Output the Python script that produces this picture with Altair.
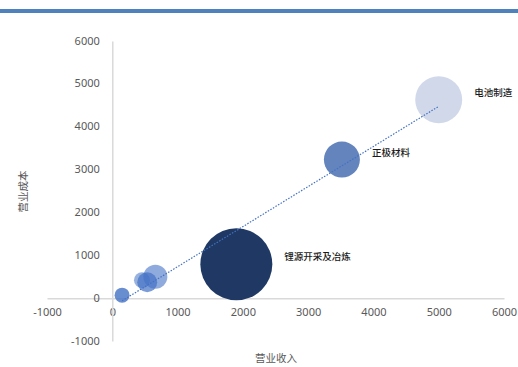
import altair as alt
import pandas as pd

# --- data ---
segment_ids = ["s1", "s2", "s3", "s4", "s5", "s6", "s7"]
labels = ["", "", "", "", "锂源开采及冶炼", "正极材料", "电池制造"]
revenue = [150, 455, 535, 660, 1900, 3517, 5000]      # 营业收入
cost = [70, 420, 370, 500, 790, 3233, 4630]           # 营业成本
bubble_size = [56, 64, 100, 144, 1296, 324, 552]     # bubble size value
fill_colors = ["#4472C4", "#4472C4", "#4472C4", "#4472C4", "#1F3864", "#5B7DB8", "#D0D8EA"]
fill_opacity = [0.8, 0.55, 0.7, 0.6, 1.0, 0.95, 1.0]

x_ticks = [-1000, 0, 1000, 2000, 3000, 4000, 5000, 6000]
y_ticks = [-1000, 0, 1000, 2000, 3000, 4000, 5000, 6000]

df = pd.DataFrame({
    "id": segment_ids,
    "label": labels,
    "revenue": revenue,
    "cost": cost,
    "size": bubble_size,
    "color": fill_colors,
    "op": fill_opacity,
})

W, H = 457, 300
XMIN, XMAX = -1000, 6000
YMIN, YMAX = -1000, 6000
px_per_x = W / (XMAX - XMIN)
px_per_y = H / (YMAX - YMIN)

xscale = alt.Scale(domain=[XMIN, XMAX], nice=False, zero=False)
yscale = alt.Scale(domain=[YMIN, YMAX], nice=False, zero=False)

axis_common = dict(
    tickSize=0, grid=False, domainColor="#D9D9D9", domainWidth=1.5,
    labelColor="#595959", labelFont="Noto Sans", labelFontSize=11,
    titleColor="#595959", titleFont="Noto Sans CJK SC", titleFontSize=10.5,
    titleFontWeight="normal", labelExpr="'' + datum.value",
    labelFlush=False, labelOverlap=False,
)

x_enc = alt.X("revenue:Q", scale=xscale, axis=alt.Axis(
    values=x_ticks, orient="bottom", offset=-(0 - YMIN) * px_per_y,
    labelPadding=8, title="营业收入", titleY=60, titleBaseline="middle",
    **axis_common))
y_enc = alt.Y("cost:Q", scale=yscale, axis=alt.Axis(
    values=y_ticks, orient="left", offset=-(0 - XMIN) * px_per_x,
    labelPadding=13, title="营业成本", titleX=-89, titleBaseline="middle",
    **axis_common))

bubbles = alt.Chart(df).mark_circle(stroke=None).encode(
    x=x_enc,
    y=y_enc,
    size=alt.Size("size:Q", scale=alt.Scale(domain=[0, 1296], range=[0, 4 * 1296], type="linear", zero=True), legend=None),
    color=alt.Color("color:N", scale=None),
    opacity=alt.Opacity("op:Q", scale=None),
)

trend = alt.Chart(df).transform_regression("revenue", "cost").mark_line(
    color="#4472C4", strokeDash=[1.5, 1.5], strokeWidth=1.2
).encode(
    x=alt.X("revenue:Q", scale=xscale),
    y=alt.Y("cost:Q", scale=yscale),
)

text = alt.Chart(df).transform_filter(
    alt.datum.label != ""
).transform_calculate(
    labx=f"datum.revenue + (sqrt(datum.size) + 12) / {px_per_x}"
).mark_text(
    align="left", baseline="middle", dy=-7, font="Noto Sans CJK SC",
    fontSize=9.5, color="#1a1a1a", fontWeight=500
).encode(
    x=alt.X("labx:Q", scale=xscale),
    y=alt.Y("cost:Q", scale=yscale),
    text="label:N",
)

topbar = alt.Chart(df).mark_rect(color="#4F81BD").encode(
    x=alt.value(-47), x2=alt.value(471), y=alt.value(-32), y2=alt.value(-28)
)

chart = alt.layer(bubbles, trend, text, topbar).properties(
    width=W, height=H,
    autosize=alt.AutoSizeParams(type="none"),
    padding={"left": 47, "top": 41, "right": 14, "bottom": 26},
    background="white",
).configure_view(stroke=None)

chart.save("out.html", embed_options={"renderer": "svg", "actions": False})
